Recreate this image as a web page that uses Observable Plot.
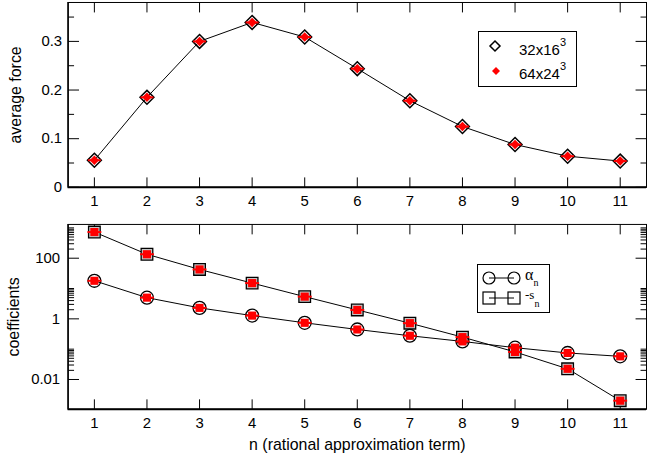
<!DOCTYPE html>
<html><head><meta charset="utf-8">
<script src="https://cdn.jsdelivr.net/npm/d3@7"></script>
<script src="https://cdn.jsdelivr.net/npm/@observablehq/plot@0.6"></script>
<style>
html,body{margin:0;padding:0;background:#fff;overflow:hidden;}
#wrap{position:relative;width:648px;height:466px;overflow:hidden;background:#fff;}
#wrap > svg{display:block;}
#legend{position:absolute;left:0;top:0;pointer-events:none;}
</style></head><body><div id="wrap"></div>
<script>
// ---- data ----
const nTerms   = [1, 2, 3, 4, 5, 6, 7, 8, 9, 10, 11];
const force32  = [0.0557, 0.185, 0.300, 0.339, 0.309, 0.244, 0.178, 0.125, 0.088, 0.064, 0.054];
const force64  = [0.0557, 0.185, 0.300, 0.339, 0.309, 0.244, 0.178, 0.125, 0.088, 0.064, 0.054];
const alphaN   = [18.0, 5.0, 2.3, 1.28, 0.74, 0.446, 0.277, 0.18, 0.112, 0.075, 0.058];
const alphaN64 = [18.0, 5.0, 2.3, 1.28, 0.74, 0.446, 0.277, 0.18, 0.112, 0.075, 0.058];
const minusS   = [728, 135, 42.6, 15.1, 5.4, 1.97, 0.72, 0.25, 0.081, 0.0225, 0.002];
const minusS64 = [728, 135, 42.6, 15.1, 5.4, 1.97, 0.72, 0.25, 0.081, 0.0225, 0.002];
const forceTicks = [0, 0.1, 0.2, 0.3];
const forceMinor = [0.05, 0.15, 0.25, 0.35];
const coefTicks  = [0.01, 1, 100];
const coefMinor  = [0.02,0.03,0.04,0.05,0.06,0.07,0.08,0.09,0.1, 2,3,4,5,6,7,8,9,10, 200,300,400,500,600,700,800,900,1000];
const forceLabel = "average force";
const coefLabel  = "coefficients";
const xLabel     = "n (rational approximation term)";

// ---- helpers ----
const font = "'Liberation Sans', Arial, Helvetica, sans-serif";
const W = 652, ML = 68, MR = 2;
const xDom = [0.5, 11.5];
const hTick = (len, dir) => ({draw(c){ c.moveTo(0,0); c.lineTo(dir*len,0); }});
const vTick = (len, dir) => ({draw(c){ c.moveTo(0,0); c.lineTo(0,dir*len); }});
const hBar  = len => ({draw(c){ c.moveTo(-len/2,0); c.lineTo(len/2,0); }});
const tk = {stroke: "black", fill: "none", strokeWidth: 1};

function frameTicks(yMajor, yMinor) {
  return [
    Plot.dot(nTerms, {x: d => d, frameAnchor: "top", symbol: vTick(10, 1), ...tk}),
    Plot.dot(nTerms, {x: d => d, frameAnchor: "bottom", symbol: vTick(10, -1), ...tk}),
    Plot.dot(yMajor, {y: d => d, frameAnchor: "left", symbol: hTick(11, 1), ...tk}),
    Plot.dot(yMajor, {y: d => d, frameAnchor: "right", symbol: hTick(11, -1), ...tk}),
    Plot.dot(yMinor, {y: d => d, frameAnchor: "left", symbol: hTick(6, 1), ...tk}),
    Plot.dot(yMinor, {y: d => d, frameAnchor: "right", symbol: hTick(6, -1), ...tk})
  ];
}

const topData = nTerms.map((n, i) => ({n, f32: force32[i], f64: force64[i]}));
const botData = nTerms.map((n, i) => ({n, a: alphaN[i], a64: alphaN64[i], s: minusS[i], s64: minusS64[i]}));

const style = {fontFamily: font, fontSize: "15px", background: "white", overflow: "visible", color: "black"};

const topPlot = Plot.plot({
  width: W, height: 215, marginLeft: ML, marginRight: MR, marginTop: 2, marginBottom: 27,
  style,
  x: {domain: xDom, label: null},
  y: {domain: [0, 0.38], label: null},
  marks: [
    Plot.frame({stroke: "black", strokeWidth: 1}),
    Plot.ruleY([forceTicks[0]], {stroke: "black", strokeWidth: 2}),
    Plot.ruleX([xDom[0]], {stroke: "black", strokeWidth: 1.5}),
    ...frameTicks(forceTicks, forceMinor),
    Plot.axisX(nTerms, {anchor: "bottom", label: null, tickSize: 0, tickPadding: 8, fontSize: 15, tickFormat: d => String(d)}),
    Plot.axisY(forceTicks, {anchor: "left", label: null, tickSize: 0, tickPadding: 6, fontSize: 15, tickFormat: d => d === 0 ? "0" : d.toFixed(1)}),
    Plot.text([forceLabel], {text: d => d, frameAnchor: "left", textAnchor: "middle", dx: -47, rotate: -90, lineAnchor: "bottom", fontSize: 16}),
    Plot.line(topData, {x: "n", y: "f32", stroke: "black", strokeWidth: 1}),
    Plot.dot(topData, {x: "n", y: "f32", symbol: "diamond2", r: 6.3, stroke: "black", strokeWidth: 1.5, fill: "none"}),
    Plot.dot(topData, {x: "n", y: "f64", symbol: "diamond2", r: 4.3, fill: "red", stroke: "none"}),
    Plot.dot(topData, {x: "n", y: "f64", symbol: hBar(13), stroke: "red", strokeWidth: 2, fill: "none"})
  ]
});

const botPlot = Plot.plot({
  width: W, height: 251, marginLeft: ML, marginRight: MR, marginTop: 10, marginBottom: 55,
  style,
  x: {domain: xDom, label: null},
  y: {type: "log", domain: [0.00104, 1300], label: null},
  marks: [
    Plot.frame({stroke: "black", strokeWidth: 1}),
    Plot.ruleY([0.00104], {stroke: "black", strokeWidth: 2}),
    Plot.ruleX([xDom[0]], {stroke: "black", strokeWidth: 1.5}),
    ...frameTicks(coefTicks, coefMinor),
    Plot.axisX(nTerms, {anchor: "bottom", label: null, tickSize: 0, tickPadding: 8, fontSize: 15, tickFormat: d => String(d)}),
    Plot.axisY(coefTicks, {anchor: "left", label: null, tickSize: 0, tickPadding: 8, fontSize: 15, tickFormat: d => String(d)}),
    Plot.text([coefLabel], {text: d => d, frameAnchor: "left", textAnchor: "middle", dx: -49.5, rotate: -90, lineAnchor: "bottom", fontSize: 16}),
    Plot.text([xLabel], {text: d => d, frameAnchor: "bottom", textAnchor: "middle", dy: 41, lineAnchor: "bottom", fontSize: 16}),
    Plot.line(botData, {x: "n", y: "s", stroke: "black", strokeWidth: 1}),
    Plot.line(botData, {x: "n", y: "a", stroke: "black", strokeWidth: 1}),
    Plot.dot(botData, {x: "n", y: "s", symbol: "square", r: 6.6, stroke: "black", strokeWidth: 1.3, fill: "#c4c4c4"}),
    Plot.dot(botData, {x: "n", y: "a", symbol: "circle", r: 6.5, stroke: "black", strokeWidth: 1.3, fill: "none"}),
    Plot.dot(botData, {x: "n", y: "s64", symbol: "square", r: 4.6, fill: "red", stroke: "none"}),
    Plot.dot(botData, {x: "n", y: "a64", symbol: "square", r: 4.6, fill: "red", stroke: "none"}),
    Plot.dot(botData, {x: "n", y: "s64", symbol: hBar(14), stroke: "red", strokeWidth: 2, fill: "none"}),
    Plot.dot(botData, {x: "n", y: "a64", symbol: hBar(14), stroke: "red", strokeWidth: 2, fill: "none"})
  ]
});

const wrap = document.getElementById("wrap");
wrap.appendChild(topPlot);
wrap.appendChild(botPlot);

// ---- legends ----
const ns = "http://www.w3.org/2000/svg";
const leg = document.createElementNS(ns, "svg");
leg.setAttribute("id", "legend");
leg.setAttribute("width", 648);
leg.setAttribute("height", 466);
leg.innerHTML = `
<g font-family="${font.replace(/'/g, "")}" fill="black">
  <rect x="478.5" y="31.5" width="98" height="55" fill="white" stroke="black" stroke-width="1"/>
  <path d="M495,41 L500,46 L495,51 L490,46 Z" fill="none" stroke="black" stroke-width="1.5"/>
  <text x="519" y="55" font-size="15">32x16<tspan font-size="11" dy="-9">3</tspan></text>
  <path d="M496,67 L500,71 L496,75 L492,71 Z" fill="red"/>
  <text x="519" y="79" font-size="15">64x24<tspan font-size="11" dy="-9">3</tspan></text>

  <rect x="477.5" y="264.5" width="72" height="48" fill="white" stroke="black" stroke-width="1"/>
  <line x1="489" y1="278" x2="514" y2="278" stroke="black" stroke-width="1"/>
  <circle cx="489" cy="278" r="6" fill="none" stroke="black" stroke-width="1.2"/>
  <circle cx="514" cy="278" r="6" fill="none" stroke="black" stroke-width="1.2"/>
  <line x1="489" y1="298" x2="514" y2="298" stroke="black" stroke-width="1"/>
  <rect x="483" y="292" width="12" height="12" fill="none" stroke="black" stroke-width="1.2"/>
  <rect x="508" y="292" width="12" height="12" fill="none" stroke="black" stroke-width="1.2"/>
  <text x="525" y="280" font-size="16" font-family="Liberation Serif, Times New Roman, serif">α<tspan font-size="10" dy="6">n</tspan></text>
  <text x="525" y="299" font-size="13" font-family="Liberation Serif, Times New Roman, serif">-s<tspan font-size="10" dy="8">n</tspan></text>
</g>`;
wrap.appendChild(leg);
</script></body></html>
